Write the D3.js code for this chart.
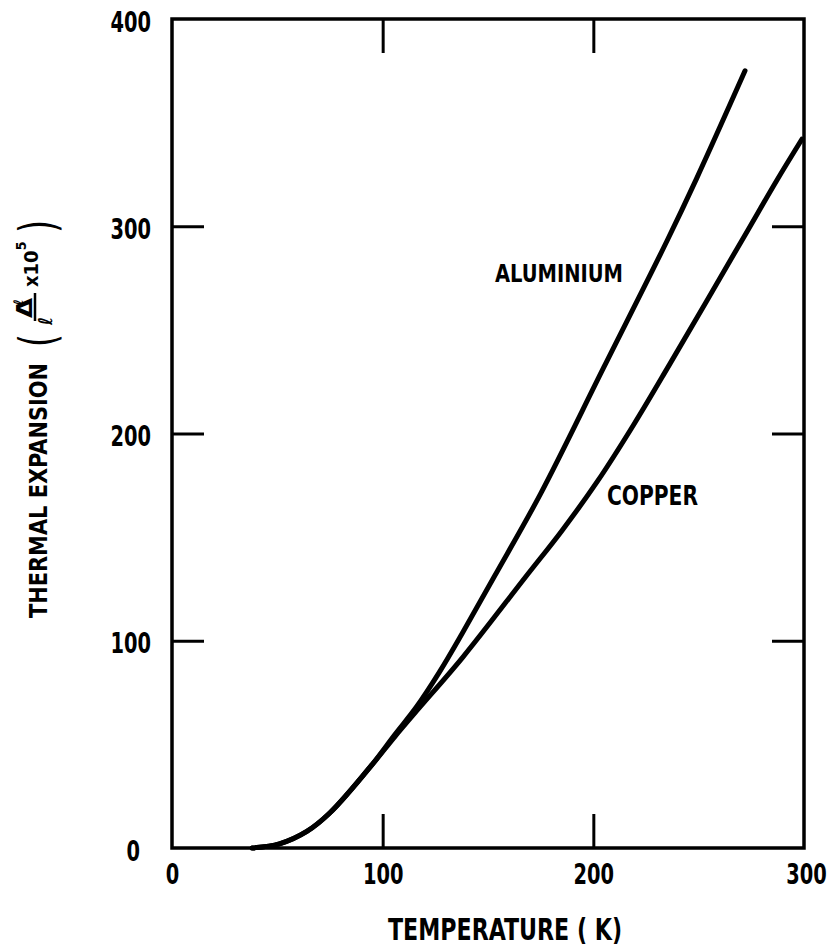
<!DOCTYPE html>
<meta charset="utf-8">
<script src="https://d3js.org/d3.v7.min.js"></script>
<style>
    body { margin: 0; background: #fff; }
    svg { display: block; }
    text { font-family: "DejaVu Sans Condensed", "DejaVu Sans", sans-serif; font-weight: bold; fill: #000; }
</style>
<svg width="829" height="948"></svg>
<script>
    // values
    var xTicks = [0, 100, 200, 300];
    var yTicks = [0, 100, 200, 300, 400];

    var aluminiumT = [38, 51, 64, 75, 94, 106, 116, 127, 138, 153, 175, 205, 235, 249, 272];
    var aluminiumV = [0, 2, 8, 17, 39, 55, 68, 85, 104, 131, 171, 232, 293, 323, 375];

    var copperT = [38, 51, 64, 75, 94, 106, 116, 138, 168, 185, 202, 219, 236, 271, 287, 299];
    var copperV = [0, 2, 8, 17, 39, 54, 66, 92, 131, 153, 177, 204, 233, 294, 322, 342];

    var labels = ['ALUMINIUM', 'COPPER'];

    var x = d3.scaleLinear()
        .domain([0, 300])
        .range([172, 804]);
    var y = d3.scaleLinear()
        .domain([0, 400])
        .range([848, 19]);

    var svg = d3.select('svg');

    // frame
    svg.append('rect')
        .attr('x', x(0))
        .attr('y', y(400))
        .attr('width', x(300) - x(0))
        .attr('height', y(0) - y(400))
        .attr('fill', 'none')
        .attr('stroke', '#000')
        .attr('stroke-width', 3.5);

    // axes with inward ticks
    var bottom = svg.append('g')
        .attr('transform', 'translate(0,' + y(0) + ')')
        .call(d3.axisBottom(x).tickValues(xTicks).tickSizeInner(-34).tickSizeOuter(0).tickPadding(16));
    var top = svg.append('g')
        .attr('transform', 'translate(0,' + y(400) + ')')
        .call(d3.axisTop(x).tickValues([100, 200]).tickSizeInner(-34).tickSizeOuter(0).tickFormat(''));
    var left = svg.append('g')
        .attr('transform', 'translate(' + x(0) + ',0)')
        .call(d3.axisLeft(y).tickValues(yTicks).tickSizeInner(-32).tickSizeOuter(0).tickPadding(21));
    var right = svg.append('g')
        .attr('transform', 'translate(' + x(300) + ',0)')
        .call(d3.axisRight(y).tickValues([100, 200, 300]).tickSizeInner(-32).tickSizeOuter(0).tickFormat(''));

    svg.selectAll('.domain').remove();
    svg.selectAll('.tick line')
        .attr('stroke', '#000')
        .attr('stroke-width', 3);
    svg.selectAll('.tick text')
        .attr('font-size', 28)
        .attr('fill', '#000')
        .attr('textLength', function(d) { return String(d).length * 13.5; })
        .attr('lengthAdjust', 'spacingAndGlyphs');
    bottom.selectAll('.tick text').attr('dy', '0.71em');
    left.selectAll('.tick text').attr('dy', '0.43em');
    // the "0" on the value axis sits a little further left
    left.selectAll('.tick text').filter(function(d) { return d == 0; }).attr('x', -32);
    // the last label is pulled in a touch so it stays on the page
    bottom.selectAll('.tick text').filter(function(d) { return d == 300; }).attr('x', 2);
    // no tick marks where they would sit on the frame
    bottom.selectAll('.tick line').filter(function(d) { return d == 0 || d == 300; }).remove();
    left.selectAll('.tick line').filter(function(d) { return d == 0 || d == 400; }).remove();

    // curves
    var line = d3.line()
        .x(function(d) { return x(d[0]); })
        .y(function(d) { return y(d[1]); })
        .curve(d3.curveCatmullRom.alpha(0.5));

    var series = [
        d3.zip(aluminiumT, aluminiumV),
        d3.zip(copperT, copperV)
    ];

    svg.selectAll('path.curve')
        .data(series)
        .enter()
        .append('path')
        .attr('class', 'curve')
        .attr('d', line)
        .attr('fill', 'none')
        .attr('stroke', '#000')
        .attr('stroke-width', 5)
        .attr('stroke-linecap', 'round');

    // curve labels
    svg.append('text')
        .attr('x', 495).attr('y', 282)
        .attr('font-size', 25)
        .attr('textLength', 128)
        .attr('lengthAdjust', 'spacingAndGlyphs')
        .text(labels[0]);
    svg.append('text')
        .attr('x', 607).attr('y', 505)
        .attr('font-size', 27)
        .attr('textLength', 91)
        .attr('lengthAdjust', 'spacingAndGlyphs')
        .text(labels[1]);

    // x title
    svg.append('text')
        .attr('x', 388).attr('y', 940)
        .attr('font-size', 31)
        .attr('textLength', 234)
        .attr('lengthAdjust', 'spacingAndGlyphs')
        .text('TEMPERATURE ( K)');

    // y title, drawn along the rotated axis
    var yt = svg.append('g')
        .attr('transform', 'translate(0,618) rotate(-90)');
    yt.append('text')
        .attr('x', 0).attr('y', 47)
        .attr('font-size', 24)
        .attr('textLength', 255)
        .attr('lengthAdjust', 'spacingAndGlyphs')
        .text('THERMAL EXPANSION');
    yt.append('text')
        .attr('x', 271).attr('y', 55)
        .attr('font-size', 50)
        .style('font-weight', 'normal')
        .attr('textLength', 13)
        .attr('lengthAdjust', 'spacingAndGlyphs')
        .text('(');
    yt.append('text')
        .attr('x', 300).attr('y', 32)
        .attr('font-size', 22)
        .attr('textLength', 20)
        .attr('lengthAdjust', 'spacingAndGlyphs')
        .text('Δ');
    yt.append('text')
        .attr('x', 313).attr('y', 23)
        .attr('font-size', 13)
        .attr('font-style', 'italic')
        .text('ℓ');
    yt.append('line')
        .attr('x1', 297).attr('x2', 325)
        .attr('y1', 35).attr('y2', 35)
        .attr('stroke', '#000')
        .attr('stroke-width', 2.5);
    yt.append('text')
        .attr('x', 293).attr('y', 52)
        .attr('font-size', 19)
        .attr('font-style', 'italic')
        .text('ℓ');
    var mult = yt.append('text')
        .attr('x', 331).attr('y', 38)
        .attr('font-size', 20);
    mult.append('tspan').text('x10');
    mult.append('tspan').attr('font-size', 14).attr('dy', -12).text('5');
    yt.append('text')
        .attr('x', 385).attr('y', 55)
        .attr('font-size', 50)
        .style('font-weight', 'normal')
        .attr('textLength', 13)
        .attr('lengthAdjust', 'spacingAndGlyphs')
        .text(')');
</script>
